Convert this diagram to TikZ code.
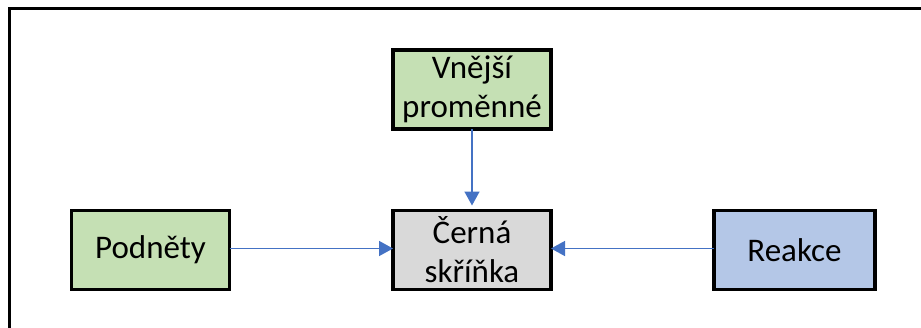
\documentclass[tikz,border=0pt]{standalone}
\usepackage{fontspec}
\setmainfont{Carlito}
\usetikzlibrary{arrows.meta}
\definecolor{boxgreen}{HTML}{C5E0B4}
\definecolor{boxgrey}{HTML}{D9D9D9}
\definecolor{boxblue}{HTML}{B4C7E7}
\definecolor{arrowblue}{HTML}{4472C4}
\tikzset{
  box/.style={draw=black, line width=3.5bp, minimum width=158bp, minimum height=79bp,
    inner sep=0pt, outer sep=0pt, align=center, font=\fontsize{33bp}{39bp}\selectfont},
  conn/.style={draw=arrowblue, line width=1.5bp, -{Triangle[length=14bp,width=15bp]}}
}
\begin{document}
\begin{tikzpicture}[x=1bp,y=1bp]
\useasboundingbox (0,0) rectangle (921,327);
\fill[white] (0,0) rectangle (921,327);
\begin{scope}
\clip (0,0) rectangle (921,327);
\draw[line width=3bp] (9,-20) -- (9,318) -- (940,318);
\end{scope}
\node[box, fill=boxgreen] (vnejsi) at (472,237.5) {Vnější\\proměnné};
\node[box, fill=boxgreen] (podnety) at (150.5,77) {Podněty};
\node[box, fill=boxgrey] (cerna) at (472,77) {Černá\\skříňka};
\node[box, fill=boxblue, minimum width=161bp] (reakce) at (794.5,77) {Reakce};
\draw[conn, shorten >=5bp] (vnejsi) -- (cerna);
\draw[conn] ([yshift=1.5bp]podnety.east) -- ([yshift=1.5bp]cerna.west);
\draw[conn] ([yshift=1.5bp]reakce.west) -- ([yshift=1.5bp]cerna.east);
\end{tikzpicture}
\end{document}
